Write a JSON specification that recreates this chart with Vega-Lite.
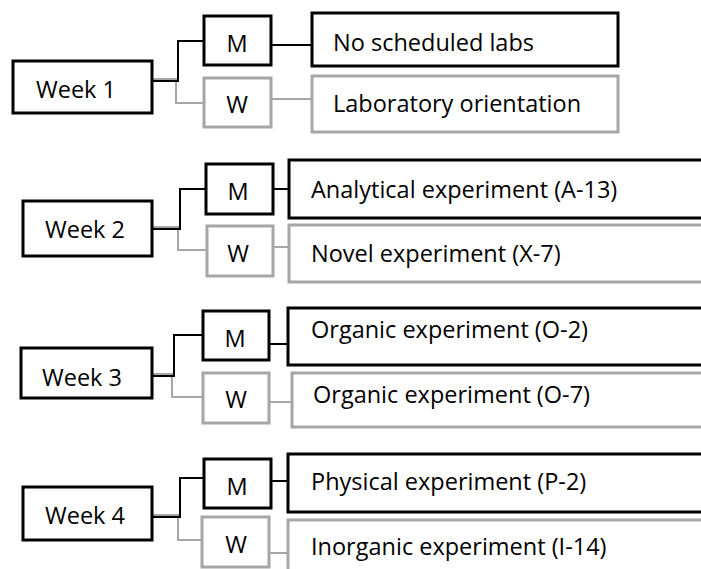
{
  "$schema": "https://vega.github.io/schema/vega-lite/v6.json",
  "width": 701,
  "height": 569,
  "padding": 0,
  "autosize": {"type": "none"},
  "background": "white",
  "config": {"view": {"stroke": null}},
  "datasets": {
    "boxes": [
      {"x": 13, "y": 61, "x2": 152, "y2": 113, "tone": "dark"},
      {"x": 23, "y": 201, "x2": 152, "y2": 256, "tone": "dark"},
      {"x": 21, "y": 348, "x2": 152, "y2": 398, "tone": "dark"},
      {"x": 23, "y": 487, "x2": 152, "y2": 540, "tone": "dark"},
      {"x": 204, "y": 16, "x2": 271, "y2": 65, "tone": "dark"},
      {"x": 206, "y": 164, "x2": 273, "y2": 214, "tone": "dark"},
      {"x": 203, "y": 311, "x2": 269, "y2": 360, "tone": "dark"},
      {"x": 204, "y": 459, "x2": 271, "y2": 508, "tone": "dark"},
      {"x": 204, "y": 78, "x2": 271, "y2": 127, "tone": "light"},
      {"x": 207, "y": 226, "x2": 273, "y2": 276, "tone": "light"},
      {"x": 203, "y": 373, "x2": 269, "y2": 423, "tone": "light"},
      {"x": 202, "y": 517, "x2": 269, "y2": 567, "tone": "light"},
      {"x": 312, "y": 13, "x2": 618, "y2": 66, "tone": "dark"},
      {"x": 312, "y": 76, "x2": 618, "y2": 132, "tone": "light"},
      {"x": 289, "y": 160, "x2": 720, "y2": 218, "tone": "dark"},
      {"x": 289, "y": 225, "x2": 720, "y2": 282, "tone": "light"},
      {"x": 288, "y": 308, "x2": 720, "y2": 365, "tone": "dark"},
      {"x": 292, "y": 373, "x2": 720, "y2": 427, "tone": "light"},
      {"x": 288, "y": 454, "x2": 720, "y2": 512, "tone": "dark"},
      {"x": 288, "y": 520, "x2": 720, "y2": 600, "tone": "light"}
    ],
    "links": [
      {"x": 152, "y": 79, "x2": 176, "y2": 79, "tone": "light"},
      {"x": 176, "y": 79, "x2": 176, "y2": 103, "tone": "light"},
      {"x": 176, "y": 103, "x2": 204, "y2": 103, "tone": "light"},
      {"x": 152, "y": 81, "x2": 178, "y2": 81, "tone": "dark"},
      {"x": 178, "y": 81, "x2": 178, "y2": 41, "tone": "dark"},
      {"x": 178, "y": 41, "x2": 204, "y2": 41, "tone": "dark"},
      {"x": 271, "y": 45, "x2": 312, "y2": 45, "tone": "dark"},
      {"x": 271, "y": 99, "x2": 312, "y2": 99, "tone": "light"},

      {"x": 152, "y": 227, "x2": 178, "y2": 227, "tone": "light"},
      {"x": 178, "y": 227, "x2": 178, "y2": 250, "tone": "light"},
      {"x": 178, "y": 250, "x2": 207, "y2": 250, "tone": "light"},
      {"x": 152, "y": 229, "x2": 180, "y2": 229, "tone": "dark"},
      {"x": 180, "y": 229, "x2": 180, "y2": 189, "tone": "dark"},
      {"x": 180, "y": 189, "x2": 206, "y2": 189, "tone": "dark"},
      {"x": 273, "y": 189, "x2": 289, "y2": 189, "tone": "dark"},
      {"x": 273, "y": 247, "x2": 289, "y2": 247, "tone": "light"},

      {"x": 152, "y": 374, "x2": 172, "y2": 374, "tone": "light"},
      {"x": 172, "y": 374, "x2": 172, "y2": 397, "tone": "light"},
      {"x": 172, "y": 397, "x2": 203, "y2": 397, "tone": "light"},
      {"x": 152, "y": 376, "x2": 174, "y2": 376, "tone": "dark"},
      {"x": 174, "y": 376, "x2": 174, "y2": 335, "tone": "dark"},
      {"x": 174, "y": 335, "x2": 203, "y2": 335, "tone": "dark"},
      {"x": 269, "y": 344, "x2": 288, "y2": 344, "tone": "dark"},
      {"x": 269, "y": 402, "x2": 292, "y2": 402, "tone": "light"},

      {"x": 152, "y": 515, "x2": 178, "y2": 515, "tone": "light"},
      {"x": 178, "y": 515, "x2": 178, "y2": 540, "tone": "light"},
      {"x": 178, "y": 540, "x2": 202, "y2": 540, "tone": "light"},
      {"x": 152, "y": 517, "x2": 180, "y2": 517, "tone": "dark"},
      {"x": 180, "y": 517, "x2": 180, "y2": 478, "tone": "dark"},
      {"x": 180, "y": 478, "x2": 204, "y2": 478, "tone": "dark"},
      {"x": 271, "y": 481, "x2": 288, "y2": 481, "tone": "dark"},
      {"x": 269, "y": 553, "x2": 288, "y2": 553, "tone": "light"}
    ],
    "labels": [
      {"x": 36, "y": 98, "label": "Week 1", "kind": "left"},
      {"x": 45, "y": 238, "label": "Week 2", "kind": "left"},
      {"x": 42, "y": 386, "label": "Week 3", "kind": "left"},
      {"x": 45, "y": 524, "label": "Week 4", "kind": "left"},
      {"x": 237, "y": 52, "label": "M", "kind": "center"},
      {"x": 237, "y": 113, "label": "W", "kind": "center"},
      {"x": 238, "y": 200, "label": "M", "kind": "center"},
      {"x": 238, "y": 262, "label": "W", "kind": "center"},
      {"x": 235, "y": 347, "label": "M", "kind": "center"},
      {"x": 236, "y": 408, "label": "W", "kind": "center"},
      {"x": 237, "y": 495, "label": "M", "kind": "center"},
      {"x": 236, "y": 553, "label": "W", "kind": "center"},
      {"x": 333, "y": 51, "label": "No scheduled labs", "kind": "left"},
      {"x": 333, "y": 112, "label": "Laboratory orientation", "kind": "left"},
      {"x": 311, "y": 198, "label": "Analytical experiment (A-13)", "kind": "left"},
      {"x": 311, "y": 262, "label": "Novel experiment (X-7)", "kind": "left"},
      {"x": 311, "y": 338, "label": "Organic experiment (O-2)", "kind": "left"},
      {"x": 313, "y": 403, "label": "Organic experiment (O-7)", "kind": "left"},
      {"x": 311, "y": 490, "label": "Physical experiment (P-2)", "kind": "left"},
      {"x": 311, "y": 555, "label": "Inorganic experiment (I-14)", "kind": "left"}
    ]
  },
  "layer": [
    {
      "data": {"name": "links"},
      "mark": {"type": "rule", "strokeWidth": 2, "strokeCap": "square"},
      "encoding": {
        "x": {"field": "x", "type": "quantitative", "scale": {"domain": [0, 701], "nice": false, "zero": false}, "axis": null},
        "y": {"field": "y", "type": "quantitative", "scale": {"domain": [0, 569], "nice": false, "zero": false, "reverse": true}, "axis": null},
        "x2": {"field": "x2"},
        "y2": {"field": "y2"},
        "color": {"field": "tone", "type": "nominal", "scale": {"domain": ["dark", "light"], "range": ["#000000", "#a6a6a6"]}, "legend": null}
      }
    },
    {
      "data": {"name": "boxes"},
      "mark": {"type": "rect", "fill": "white", "strokeWidth": 3, "clip": true},
      "encoding": {
        "x": {"field": "x", "type": "quantitative"},
        "y": {"field": "y", "type": "quantitative"},
        "x2": {"field": "x2"},
        "y2": {"field": "y2"},
        "stroke": {"field": "tone", "type": "nominal", "scale": {"domain": ["dark", "light"], "range": ["#000000", "#a6a6a6"]}, "legend": null}
      }
    },
    {
      "data": {"name": "labels"},
      "transform": [{"filter": "datum.kind === 'left'"}],
      "mark": {"type": "text", "align": "left", "baseline": "alphabetic", "font": "Open Sans", "fontSize": 23.5, "color": "black"},
      "encoding": {
        "x": {"field": "x", "type": "quantitative"},
        "y": {"field": "y", "type": "quantitative"},
        "text": {"field": "label"}
      }
    },
    {
      "data": {"name": "labels"},
      "transform": [{"filter": "datum.kind === 'center'"}],
      "mark": {"type": "text", "align": "center", "baseline": "alphabetic", "font": "Open Sans", "fontSize": 23.5, "color": "black"},
      "encoding": {
        "x": {"field": "x", "type": "quantitative"},
        "y": {"field": "y", "type": "quantitative"},
        "text": {"field": "label"}
      }
    }
  ]
}
